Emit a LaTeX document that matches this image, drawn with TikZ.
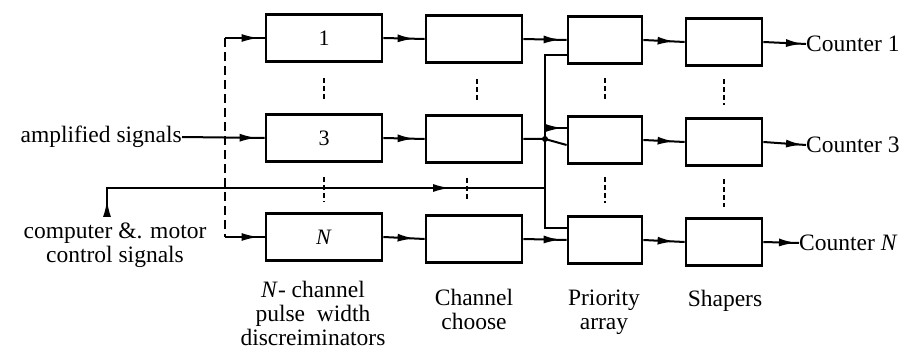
\documentclass[tikz,border=0pt]{standalone}
\usepackage{fontspec}
\setmainfont{Liberation Serif}
\usetikzlibrary{arrows.meta,decorations.markings,calc}
\begin{document}
\begin{tikzpicture}[x=1pt,y=-1pt,
  box/.style={draw,line width=2.8pt,minimum width=#1,minimum height=47pt,inner sep=0pt,
    font=\fontsize{22}{24}\selectfont},
  txt/.style={inner sep=0pt,font=\fontsize{23.5}{24}\selectfont},
  conn/.style={line width=2pt},
  arr/.style={postaction={decorate},decoration={markings,
    mark=at position #1 with {\arrow{Latex[length=17pt,width=8pt]}}}},
  arr/.default=-6pt,
  busline/.style={line width=1.8pt,dash pattern=on 9pt off 5pt},
  vdots/.style={line width=2pt,dash pattern=on 5pt off 3pt}
]
\useasboundingbox (0,0) rectangle (909,352);

% boxes
\node[box=116] (d1) at (324,38) {1};
\node[box=116] (d3) at (324,138) {3};
\node[box=116] (dN) at (324,237) {\textit{N}};
\node[box=96] (c1) at (474,39) {};
\node[box=96] (c3) at (474,139) {};
\node[box=96] (cN) at (474,239) {};
\node[box=74] (p1) at (605,40) {};
\node[box=74] (p3) at (605,140) {};
\node[box=74] (pN) at (605,240) {};
\node[box=76] (s1) at (724,42) {};
\node[box=76] (s3) at (724,142) {};
\node[box=76] (sN) at (724,242) {};

% texts
\node[txt,anchor=east] (amp) at (182,137) {amplified signals};
\node[txt,align=center] (ctrl) at (115,245) {computer \&. motor\\control signals};
\node[txt,anchor=west] (o1) at (806,44) {Counter 1};
\node[txt,anchor=west] (o3) at (806,145) {Counter 3};
\node[txt,anchor=west] (oN) at (799,243) {Counter \textit{N}};
\node[txt,align=center] (l1) at (313,313) {\textit{N}- channel\\pulse\ \ width\\discreiminators};
\node[txt,align=center] (l2) at (474,309) {Channel\\choose};
\node[txt,align=center] (l3) at (604,312) {Priority\\array};
\node[txt] (l4) at (725,301) {Shapers};

% coordinates
\coordinate (v1) at (225,38);
\coordinate (vN) at (225,237);
\coordinate (bt) at (545,55);
\coordinate (bb) at (545,228);
\coordinate (b3) at (545,128);
\coordinate (j3) at (545,139);
\coordinate (kj) at (545,188);
\coordinate (k0) at (107,217);
\coordinate (k1) at (107,188);

% input distribution
\draw[conn,arr] (v1) -- (d1.west);
\draw[busline] (v1) -- (vN);
\draw[conn,arr] (vN) -- (dN.west);
\draw[conn,arr=-8pt] (amp.east) -- (d3.west);

% row connections
\draw[conn,arr=-10pt] (d1.east) -- (c1.west);
\draw[conn,arr=-10pt] (d3.east) -- (c3.west);
\draw[conn,arr=-10pt] (dN.east) -- (cN.west);
\draw[conn,arr=-6pt] (c1.east) -- (p1.west);
\draw[conn,arr=-6pt] (cN.east) -- (pN.west);
\draw[conn] (c3.east) -- (j3) -- ([yshift=-5pt]p3.west);
\fill (j3) circle (3pt);
\draw[conn,arr=-10pt] (p1.east) -- (s1.west);
\draw[conn,arr=-10pt] (p3.east) -- (s3.west);
\draw[conn,arr=-10pt] (pN.east) -- (sN.west);
\draw[conn,arr=-3pt] (s1.east) -- (o1.west);
\draw[conn,arr=-3pt] (s3.east) -- (o3.west);
\draw[conn,arr=-3pt] (sN.east) -- (oN.west);

% priority bus
\draw[conn] (p1.west |- bt) -- (bt) -- (bb) -- (pN.west |- bb);
\draw[conn,arr=-4pt] (b3) -- (p3.west |- b3);

% control signals
\draw[conn,postaction={decorate},decoration={markings,
    mark=at position 17pt with {\arrow{Latex[length=17pt,width=8pt]}},
    mark=at position 372pt with {\arrow{Latex[length=17pt,width=8pt]}}}]
  (k0) -- (k1) -- (kj);

% vertical ellipsis marks
\draw[vdots] ([yshift=-15pt]d1.south) -- ([yshift=13pt]d3.north);
\draw[vdots] ([yshift=-14pt]d3.south) -- ([yshift=10pt]dN.north);
\draw[vdots] ([xshift=3pt,yshift=-15pt]c1.south) -- ([xshift=3pt,yshift=13pt]c3.north);
\draw[vdots] ([xshift=-7pt,yshift=-14pt]c3.south) -- ([xshift=-7pt,yshift=13pt]cN.north);
\draw[vdots] ([yshift=-13pt]p1.south) -- ([yshift=14pt]p3.north);
\draw[vdots] ([yshift=-12pt]p3.south) -- ([yshift=12pt]pN.north);
\draw[vdots] ([yshift=-12pt]s1.south) -- ([yshift=12pt]s3.north);
\draw[vdots] ([yshift=-12pt]s3.south) -- ([yshift=10pt]sN.north);
\end{tikzpicture}
\end{document}
